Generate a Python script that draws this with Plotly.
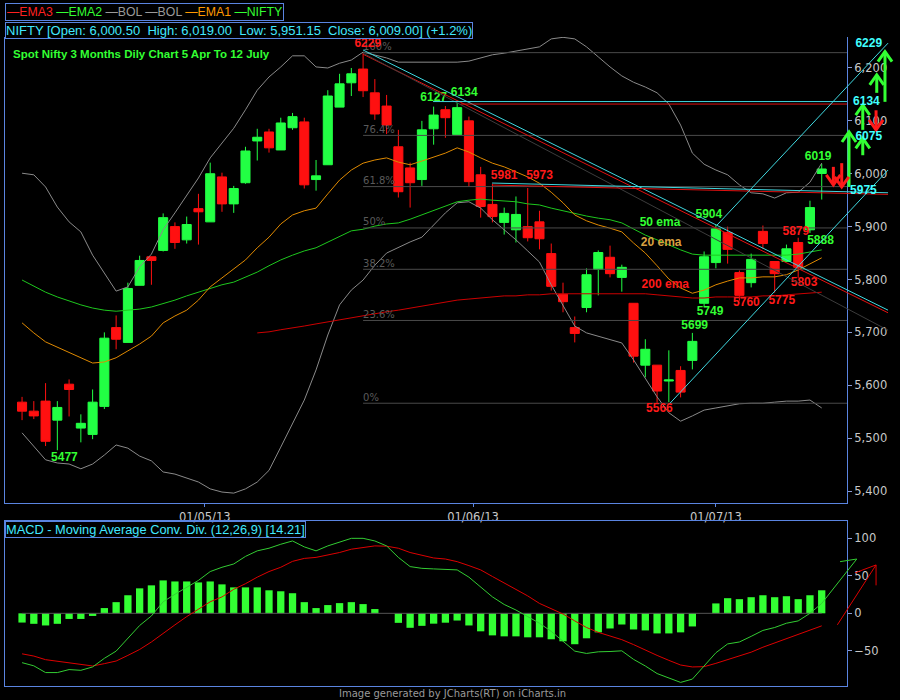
import plotly.graph_objects as go

# NIFTY daily, 5 Apr 2013 - 12 Jul 2013 (x = trading-day index)
opens  = [5568, 5551, 5570, 5534, 5602, 5519, 5507, 5560, 5709, 5681, 5789, 5843, 5855, 5900, 5875, 5934, 5909,
          5994, 5943, 5983, 6062, 6079, 6045, 6087, 6098, 5989, 6017, 6126, 6172, 6198, 6153, 6128, 6051, 6011,
          5989, 6085, 6121, 6074, 6100, 5998, 5942, 5908, 5894, 5900, 5909, 5849, 5772, 5709, 5747, 5819, 5842,
          5804, 5755, 5638, 5638, 5608, 5628, 5647, 5755, 5832, 5889, 5813, 5794, 5891, 5834, 5834, 5870, 5894, 6000.5]
highs  = [5578, 5570, 5604, 5570, 5611, 5545, 5592, 5700, 5732, 5794, 5845, 5843, 5925, 5908, 5919, 5962, 6021,
          6002, 5977, 6051, 6085, 6085, 6106, 6115, 6106, 6026, 6158, 6189, 6200, 6229, 6179, 6149, 6083, 6021,
          6100, 6127, 6128, 6134, 6108, 6013, 5981, 5936, 5957, 5973, 5930, 5868, 5794, 5730, 5821, 5855, 5864,
          5828, 5755, 5687, 5638, 5666, 5636, 5699, 5853, 5904, 5900, 5817, 5849, 5902, 5834, 5866, 5879, 5949, 6019]
lows   = [5534, 5536, 5485, 5477, 5541, 5492, 5498, 5555, 5668, 5681, 5789, 5790, 5853, 5858, 5868, 5866, 5909,
          5928, 5926, 5981, 6025, 6040, 6045, 6083, 5972, 5968, 6017, 6126, 6147, 6145, 6102, 6075, 5955, 5936,
          5977, 6055, 6068, 6074, 5975, 5917, 5908, 5885, 5870, 5872, 5857, 5779, 5738, 5681, 5738, 5770, 5804,
          5777, 5643, 5615, 5566, 5568, 5577, 5630, 5749, 5821, 5830, 5760, 5785, 5858, 5775, 5834, 5803, 5888, 5951.15]
closes = [5551, 5542, 5494, 5558, 5592, 5528, 5568, 5689, 5687, 5783, 5836, 5836, 5917, 5870, 5904, 5928, 6000,
          5943, 5972, 6043, 6069, 6049, 6096, 6108, 5979, 5996, 6147, 6170, 6189, 6157, 6113, 6092, 5966, 5983,
          6083, 6111, 6106, 6125, 5985, 5938, 5919, 5925, 5923, 5879, 5877, 5787, 5758, 5698, 5809, 5851, 5811,
          5823, 5655, 5668, 5589, 5610, 5587, 5683, 5843, 5896, 5857, 5770, 5838, 5868, 5811, 5858, 5823, 5936, 6009]

bol_upper = [6001, 5998, 5975, 5937, 5909, 5890, 5846, 5812, 5778, 5786, 5824, 5848, 5894, 5926, 5958, 5992, 6030,
             6058, 6086, 6121, 6158, 6183, 6202, 6223, 6223, 6202, 6200, 6209, 6215, 6230, 6225, 6219, 6211, 6211,
             6211, 6211, 6211, 6211, 6213, 6219, 6225, 6228, 6232, 6236, 6240, 6255, 6258, 6255, 6240, 6221, 6202,
             6185, 6173, 6164, 6153, 6132, 6092, 6039, 6018, 6007, 5998, 5979, 5964, 5962, 5954, 5964, 5965, 5984, 6020]
bol_lower = [5510, 5485, 5459, 5453, 5451, 5442, 5451, 5468, 5487, 5481, 5466, 5457, 5436, 5432, 5425, 5417, 5404,
             5398, 5396, 5404, 5417, 5439, 5483, 5527, 5572, 5629, 5695, 5752, 5780, 5799, 5827, 5850, 5861, 5871,
             5880, 5903, 5926, 5945, 5947, 5935, 5913, 5894, 5875, 5854, 5833, 5790, 5752, 5712, 5699, 5693, 5687,
             5680, 5648, 5614, 5578, 5548, 5532, 5542, 5553, 5557, 5561, 5565, 5566, 5566, 5568, 5570, 5570, 5572, 5557]
ema20 = [5718, 5699, 5682, 5672, 5663, 5652, 5642, 5644, 5652, 5665, 5678, 5693, 5718, 5731, 5742, 5761, 5786,
         5803, 5820, 5837, 5860, 5880, 5905, 5922, 5930, 5935, 5962, 5988, 6007, 6020, 6026, 6030, 6022, 6017,
         6024, 6032, 6039, 6049, 6041, 6030, 6020, 6013, 6003, 5994, 5982, 5965, 5945, 5922, 5911, 5903, 5897,
         5890, 5869, 5850, 5826, 5801, 5784, 5774, 5780, 5790, 5797, 5803, 5803, 5805, 5805, 5809, 5818, 5829, 5841]
ema50 = [5799, 5788, 5776, 5767, 5759, 5752, 5746, 5742, 5740, 5742, 5744, 5748, 5754, 5761, 5769, 5776, 5784,
         5790, 5795, 5805, 5814, 5826, 5837, 5846, 5854, 5860, 5871, 5882, 5892, 5895, 5901, 5905, 5907, 5914,
         5922, 5931, 5939, 5947, 5950, 5952, 5950, 5948, 5947, 5943, 5941, 5935, 5930, 5924, 5920, 5916, 5913,
         5907, 5895, 5884, 5875, 5865, 5856, 5848, 5846, 5846, 5846, 5846, 5846, 5846, 5846, 5846, 5848, 5852, 5856]
ema200 = [None] * 20 + [5699, 5701, 5705, 5708, 5712, 5716, 5720, 5723, 5727, 5731, 5735, 5739, 5742, 5746,
                        5750, 5754, 5757, 5761, 5763, 5765, 5767, 5769, 5769, 5771, 5771, 5773, 5773, 5773, 5773,
                        5773, 5773, 5773, 5773, 5773, 5771, 5769, 5767, 5765, 5765, 5767, 5767, 5767, 5767, 5769,
                        5769, 5771, 5773, 5774, 5776]

macd = [-65.8, -70, -79, -79, -75, -76, -71.5, -60, -50.4, -33.8, -16.2, -3.5, 15.4, 25.4, 35, 43.9, 55.7, 61.4,
        65.8, 75.9, 83.3, 86.8, 92.1, 96.5, 88.6, 83.3, 89.9, 95.2, 100, 100, 96.5, 89.9, 74.6, 62.3, 60, 59.2,
        58.3, 57.9, 48.2, 35, 21.9, 11.8, 4.4, -4.4, -13.2, -24.1, -37.3, -50.4, -53.5, -51.3, -50.9, -50, -61.4,
        -70.2, -80.3, -86.4, -92.1, -87.7, -70.2, -52.6, -40.8, -38.2, -30.7, -22.8, -18.9, -13.2, -10.1, 0, 13.2]
signal = [-54, -57, -61.8, -64, -66.7, -68.4, -70.2, -67.1, -63.6, -56.1, -48.2, -38.2, -26.3, -15.4, -4.4, 5.7,
          15.4, 21.9, 32, 39.5, 48.2, 55.7, 61.4, 69.3, 73.2, 74.6, 77.6, 81.1, 85.5, 88.2, 89.9, 89.5, 86.8, 81.1,
          77.2, 73.8, 72.4, 68.9, 63.6, 57.9, 49.1, 40.4, 32, 23.2, 13.2, 6.6, -0.9, -10.1, -18.9, -25.4, -30.7,
          -35.1, -41.7, -49.1, -56.1, -62.7, -68.9, -71.5, -71.1, -66.7, -61.4, -57, -51.8, -45.2, -39.5, -33.8,
          -28.5, -23.2, -16.7]
hist = [-12.3, -14, -16.2, -14, -7.5, -7.5, -3.5, 7, 14.9, 24.1, 33.3, 37.3, 43.9, 42.5, 42.5, 41.2, 42.5, 38.6,
        34.6, 34.6, 34.6, 30.7, 29.4, 26.8, 14.9, 7, 11, 13.6, 14.9, 12.3, 5.7, 0, -12.7, -19.3, -16.7, -13.8, -12.5,
        -9.6, -16.2, -24, -29.4, -30.7, -30.7, -32, -32, -34.6, -37.3, -41.2, -33.3, -25.4, -20.2, -14.9, -21.5,
        -22.8, -26.8, -26.8, -25.4, -17.5, 0, 13.2, 20.2, 18.9, 21.5, 24.1, 21.5, 22.8, 18.9, 24.1, 30.7]

# fibonacci retracement 6229 -> 5566
fib_names = ["100%", "76.4%", "61.8%", "50%", "38.2%", "23.6%", "0%"]
fib_levels = [6229, 6072.5, 5975.7, 5897.5, 5819.3, 5722.5, 5566]
fib_start = 29

# high / low callouts: (x, y, text)
green_tags = [(3.6, 5462, "5477"), (35.0, 6143, "6127"), (37.6, 6153, "6134"), (57.2, 5712, "5699"),
              (58.5, 5738, "5749"), (58.4, 5922, "5904"), (67.9, 5873, "5888"), (67.7, 6032, "6019")]
red_tags = [(29.4, 6245, "6229"), (41.0, 5996, "5981"), (44.0, 5996, "5973"), (54.2, 5555, "5566"),
            (61.6, 5755, "5760"), (64.6, 5759, "5775"), (66.5, 5793, "5803"), (65.8, 5890, "5879")]
ema_tags = [(54.25, 5907, "50 ema", "#33ff33"), (54.35, 5869, "20 ema", "#d9a040"),
            (54.7, 5790, "200 ema", "#ff1a1a")]
cyan_tags = [(72.0, 6246, "6229"), (71.8, 6136, "6134"), (72.0, 6069, "6075"), (71.55, 5967, "5975")]

# drawn trend lines: x0, y0, x1, y1, colour
trend_lines = [
    (29.0, 6234, 73.64, 5742, "#3fd8e0"),
    (29.0, 6226, 73.64, 5737, "#e01010"),
    (29.0, 6228, 73.64, 5704, "#3c3c3c"),
    (34.95, 6136.5, 70.15, 6136.5, "#3fd8e0"),
    (37.3, 6131.8, 70.15, 6131.8, "#e01010"),
    (39.97, 5982.4, 73.64, 5964, "#3fd8e0"),
    (39.97, 5978.6, 73.64, 5961, "#e01010"),
    (55.1, 5566, 73.64, 6007, "#3fd8e0"),
    (59.1, 5903, 73.64, 6247, "#3fd8e0"),
]
up_x = [70.32, 71.49, 71.49, 72.68, 73.38]
up_from = [5975, 6035, 6083, 6153, 6136]
up_to = [6079, 6067, 6130, 6187, 6231]
down_x = [68.99, 69.70, 72.62]
down_from = [6013, 6020, 6120]
down_to = [5979, 5975, 6083]

# macd hand arrows
macd_up_x = [68, 70.98, 69.56]
macd_up_y = [13.2, 72.4, 68.9]
macd_dn_x = [69.33, 72.62, 70.83, None, 72.62, 72.62]
macd_dn_y = [-15.4, 64.5, 54, None, 64.5, 37.3]

date_ticks = [15.54, 38.35, 59.0]
date_labels = ["01/05/13", "01/06/13", "01/07/13"]

# ---- geometry (pixels of the 900x700 page)
W, H = 900, 700
PL, PR = 5, 847
MAIN_T, MAIN_B = 37, 503
MACD_T, MACD_B = 521, 686
x_lo, x_hi = -1.45, 70.15
x_ov = x_lo + (W - PL) * (x_hi - x_lo) / (PR - PL)
main_rng = [5377.3, 6258.6]
macd_rng = [-96.9, 123.1]

FRAME = "#5a84e0"
GREEN = "#22ff44"
RED = "#ff1010"
TXT = "#c8c8c8"

n = len(opens)
idx = list(range(n))

fig = go.Figure()

fig.add_trace(go.Scatter(x=idx, y=bol_upper, mode="lines", line=dict(color="#8a8a8a", width=1)))
fig.add_trace(go.Scatter(x=idx, y=bol_lower, mode="lines", line=dict(color="#8a8a8a", width=1)))
fig.add_trace(go.Scatter(x=idx, y=ema200, mode="lines", line=dict(color="#cc0000", width=1)))
fig.add_trace(go.Scatter(x=idx, y=ema50, mode="lines", line=dict(color="#1ec81e", width=1)))
fig.add_trace(go.Scatter(x=idx, y=ema20, mode="lines", line=dict(color="#e08a00", width=1)))

# fib lines + labels
fx, fy = [], []
for lv in fib_levels:
    fx += [fib_start, x_hi, None]
    fy += [lv, lv, None]
fig.add_trace(go.Scatter(x=fx, y=fy, mode="lines", line=dict(color="#4a4a4a", width=1)))
fig.add_trace(go.Scatter(x=[fib_start] * len(fib_levels), y=fib_levels, mode="text", text=fib_names,
                         textposition="top right", cliponaxis=False,
                         textfont=dict(family="DejaVu Sans", size=10, color="#5a5a5a")))

fig.add_trace(go.Candlestick(x=idx, open=opens, high=highs, low=lows, close=closes,
                             increasing=dict(line=dict(color=GREEN, width=1), fillcolor=GREEN),
                             decreasing=dict(line=dict(color=RED, width=1), fillcolor=RED),
                             whiskerwidth=0))

def tags(items, color):
    return go.Scatter(x=[t[0] for t in items], y=[t[1] for t in items], text=[t[2] for t in items],
                      mode="text", cliponaxis=False, textposition="middle center",
                      textfont=dict(family="Liberation Sans", size=12, color=color, weight="bold"))

fig.add_trace(tags(green_tags, "#33ff33"))
fig.add_trace(tags(red_tags, "#ff1a1a"))
fig.add_trace(go.Scatter(x=[t[0] for t in ema_tags], y=[t[1] for t in ema_tags], text=[t[2] for t in ema_tags],
                         mode="text", textposition="middle center",
                         textfont=dict(family="Liberation Sans", size=12, color=[t[3] for t in ema_tags],
                                       weight="bold")))

# overlay layer (extends past the price axis)
for x0, y0, x1, y1, c in trend_lines:
    fig.add_trace(go.Scatter(x=[x0, x1], y=[y0, y1], mode="lines", line=dict(color=c, width=1),
                             xaxis="x3", yaxis="y3"))

def arrows(xs, tails, tips, dx=0.6, dy=19):
    ax, ay = [], []
    for x, t0, t1 in zip(xs, tails, tips):
        s = 1 if t1 > t0 else -1
        ax += [x, x, None, x - dx, x, x + dx, None]
        ay += [t0, t1, None, t1 - s * dy, t1, t1 - s * dy, None]
    return ax, ay

ux, uy = arrows(up_x, up_from, up_to)
dx_, dy_ = arrows(down_x, down_from, down_to)
fig.add_trace(go.Scatter(x=ux, y=uy, mode="lines", line=dict(color="#33ff33", width=3), xaxis="x3", yaxis="y3"))
fig.add_trace(go.Scatter(x=dx_, y=dy_, mode="lines", line=dict(color="#ff1a1a", width=3), xaxis="x3", yaxis="y3"))
fig.add_trace(tags(cyan_tags, "#40ffff").update(xaxis="x3", yaxis="y3"))

# MACD panel
fig.add_trace(go.Scatter(x=[idx[0], idx[-1]], y=[0, 0], mode="lines", line=dict(color="#555555", width=1),
                         xaxis="x2", yaxis="y2"))
fig.add_trace(go.Bar(x=idx, y=hist, width=0.62, marker=dict(color="#33ff33", line=dict(width=0)),
                     xaxis="x2", yaxis="y2"))
fig.add_trace(go.Scatter(x=idx, y=signal, mode="lines", line=dict(color="#dd0000", width=1), xaxis="x2", yaxis="y2"))
fig.add_trace(go.Scatter(x=idx, y=macd, mode="lines", line=dict(color="#33cc33", width=1), xaxis="x2", yaxis="y2"))
fig.add_trace(go.Scatter(x=macd_up_x, y=macd_up_y, mode="lines", line=dict(color="#33cc33", width=1),
                         xaxis="x4", yaxis="y4"))
fig.add_trace(go.Scatter(x=macd_dn_x, y=macd_dn_y, mode="lines", line=dict(color="#dd0000", width=1),
                         xaxis="x4", yaxis="y4"))

dom_x = [PL / W, PR / W]
dom_ov = [PL / W, 1.0]
dom_main = [1 - MAIN_B / H, 1 - MAIN_T / H]
dom_macd = [1 - MACD_B / H, 1 - MACD_T / H]
tickfont = dict(family="DejaVu Sans", size=11.5, color=TXT)
hidden = dict(visible=False, showgrid=False, zeroline=False)

fig.update_layout(
    width=W, height=H, margin=dict(l=0, r=0, t=0, b=0),
    paper_bgcolor="black", plot_bgcolor="rgba(0,0,0,0)", showlegend=False,
    boxgap=0.23, boxgroupgap=0, bargap=0.3,
    xaxis=dict(domain=dom_x, range=[x_lo, x_hi], anchor="y", showgrid=False, zeroline=False,
               showline=True, linecolor=FRAME, linewidth=1, ticks="outside", ticklen=3, tickcolor=FRAME,
               tickvals=date_ticks, ticktext=date_labels, tickfont=tickfont, rangeslider=dict(visible=False)),
    yaxis=dict(domain=dom_main, range=main_rng, side="right", anchor="x", showgrid=False, zeroline=False,
               showline=True, mirror=True, linecolor=FRAME, linewidth=1, ticks="outside", ticklen=4,
               tickcolor="#8a9ad0", tickvals=list(range(5400, 6201, 100)), tickformat=",d", tickfont=tickfont),
    xaxis2=dict(domain=dom_x, range=[x_lo, x_hi], anchor="y2", showgrid=False, zeroline=False,
                showline=True, mirror=True, linecolor=FRAME, linewidth=1, showticklabels=False, ticks=""),
    yaxis2=dict(domain=dom_macd, range=macd_rng, side="right", anchor="x2", showgrid=False, zeroline=False,
                showline=True, mirror=True, linecolor=FRAME, linewidth=1, ticks="outside", ticklen=4,
                tickcolor="#8a9ad0", tickvals=[-50, 0, 50, 100], tickfont=tickfont),
    xaxis3=dict(domain=dom_ov, range=[x_lo, x_ov], anchor="y3", **hidden),
    yaxis3=dict(domain=dom_main, range=main_rng, anchor="x3", **hidden),
    xaxis4=dict(domain=dom_ov, range=[x_lo, x_ov], anchor="y4", **hidden),
    yaxis4=dict(domain=dom_macd, range=macd_rng, anchor="x4", **hidden),
)

legend_html = ("<span style='color:#ff2020'>\u2014EMA3</span> <span style='color:#33ff33'>\u2014EMA2</span> "
               "<span style='color:#9a9a9a'>\u2014BOL</span> <span style='color:#9a9a9a'>\u2014BOL</span> "
               "<span style='color:#ff9900'>\u2014EMA1</span> <span style='color:#33ff33'>\u2014NIFTY</span>")
nb = "\u00a0\u00a0"
header = ("NIFTY [Open: 6,000.50" + nb + "High: 6,019.00" + nb + "Low: 5,951.15" + nb +
          "Close: 6,009.00] (+1.2%)")

boxfont = dict(family="Liberation Sans", size=13, color="#40e8ff")
fig.add_annotation(x=PL / W, y=1 - 3 / H, xref="paper", yref="paper", xanchor="left", yanchor="top",
                   text=legend_html, showarrow=False, bordercolor=FRAME, borderwidth=1, borderpad=1,
                   font=dict(family="Liberation Sans", size=12.3))
fig.add_annotation(x=PL / W, y=1 - 22 / H, xref="paper", yref="paper", xanchor="left", yanchor="top",
                   text=header, showarrow=False, bordercolor=FRAME, borderwidth=1, borderpad=0, font=boxfont)
fig.add_annotation(x=PL / W, y=1 - MACD_T / H, xref="paper", yref="paper", xanchor="left", yanchor="top",
                   text="MACD - Moving Average Conv. Div. (12,26,9) [14.21]", showarrow=False,
                   bordercolor=FRAME, borderwidth=1, borderpad=0,
                   font=dict(family="Liberation Sans", size=12.8, color="#40e8ff"))
fig.add_annotation(x=11 / W, y=1 - 54 / H, xref="paper", yref="paper", xanchor="left", yanchor="middle",
                   text="<b>Spot Nifty 3 Months Dily Chart 5 Apr To 12 July</b>", showarrow=False,
                   font=dict(family="Liberation Sans", size=11.5, color="#33ff33"))
fig.add_annotation(x=452 / W, y=1 - 693 / H, xref="paper", yref="paper", xanchor="center", yanchor="middle",
                   text="Image generated by JCharts(RT) on iCharts.in", showarrow=False,
                   font=dict(family="DejaVu Sans", size=10, color="#9a9a9a"))

fig.write_html("out.html", config={"displayModeBar": False},
               post_script="document.body.style.margin='0';document.body.style.background='black';")
